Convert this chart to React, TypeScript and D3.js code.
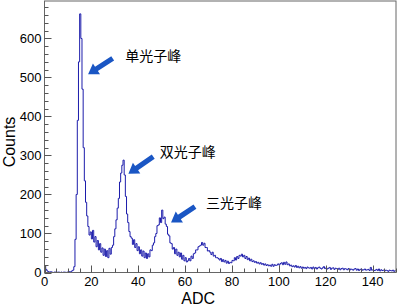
import React from "react";
import * as d3 from "d3";

const BIN_WIDTH = 0.5;
const X_DOMAIN = [0, 150];
const Y_DOMAIN = [0, 696];

// counts per 0.5-ADC bin, from 0 to 150
const counts: number[] = [
  // 0-5
  17, 8, 4, 2, 1, 2, 1, 0, 1, 1,
  // 5-10
  0, 1, 1, 0, 1, 0, 1, 1, 0, 1,
  // 10-15
  1, 2, 2, 4, 6, 15, 85, 200, 390, 540,
  // 15-20
  663, 600, 470, 320, 235, 180, 145, 118, 96, 104,
  // 20-25
  86, 108, 78, 92, 66, 82, 58, 74, 52, 63,
  // 25-30
  44, 60, 41, 56, 38, 62, 47, 64, 70, 92,
  // 30-35
  112, 135, 165, 190, 232, 255, 275, 288, 250, 195,
  // 35-40
  150, 128, 105, 92, 88, 72, 84, 64, 74, 56,
  // 40-45
  66, 48, 58, 42, 55, 38, 50, 36, 48, 40,
  // 45-50
  58, 56, 70, 76, 92, 100, 120, 122, 140, 128,
  // 50-55
  160, 138, 142, 124, 118, 98, 94, 76, 74, 60,
  // 55-60
  64, 48, 60, 44, 52, 40, 50, 34, 44, 30,
  // 60-65
  38, 27, 30, 36, 30, 42, 36, 48, 50, 58,
  // 65-70
  58, 66, 68, 70, 77, 70, 75, 64, 64, 55,
  // 70-75
  56, 52, 46, 52, 42, 44, 38, 38, 36, 32,
  // 75-80
  36, 28, 33, 27, 31, 24, 29, 23, 26, 25,
  // 80-85
  31, 30, 38, 32, 41, 36, 44, 42, 47, 40,
  // 85-90
  44, 36, 41, 33, 37, 30, 34, 28, 30, 26,
  // 90-95
  28, 24, 26, 22, 25, 21, 23, 19, 22, 18,
  // 95-100
  20, 17, 19, 16, 21, 16, 20, 18, 19, 22,
  // 100-105
  19, 23, 25, 20, 26, 21, 27, 20, 22, 17,
  // 105-110
  19, 15, 17, 14, 18, 13, 16, 12, 15, 11,
  // 110-115
  14, 11, 13, 10, 14, 12, 11, 13, 9, 14,
  // 115-120
  10, 13, 9, 12, 14, 11, 9, 12, 15, 10,
  // 120-125
  12, 9, 11, 13, 8, 11, 12, 8, 11, 10,
  // 125-130
  8, 11, 7, 10, 11, 7, 10, 9, 7, 10,
  // 130-135
  6, 9, 8, 6, 9, 10, 6, 9, 5, 8,
  // 135-140
  9, 6, 7, 9, 6, 7, 8, 5, 13, 6,
  // 140-145
  7, 5, 6, 8, 5, 9, 4, 7, 5, 6,
  // 145-150
  4, 6, 5, 3, 6, 5, 4, 6, 3, 5,
];

const xMajorTicks = [0, 20, 40, 60, 80, 100, 120, 140];
const yMajorTicks = [0, 100, 200, 300, 400, 500, 600];

const peakLabels = ["单光子峰", "双光子峰", "三光子峰"];
// arrow tail / tip in data coordinates (ADC, Counts)
const arrowTails: [number, number][] = [
  [29.1, 549],
  [46.4, 297],
  [64.2, 169],
];
const arrowTips: [number, number][] = [
  [18.6, 508],
  [35.8, 253],
  [54.0, 128],
];
const labelPos: [number, number][] = [
  [34.5, 556],
  [49.2, 308],
  [68.9, 178],
];

const W = 397;
const H = 307;
const left = 44.5;
const right = 396;
const top = 1;
const bottom = 272.5;

function arrowPath(tx: number, ty: number, hx: number, hy: number) {
  const dx = hx - tx;
  const dy = hy - ty;
  const len = Math.hypot(dx, dy);
  const ux = dx / len;
  const uy = dy / len;
  const px = -uy;
  const py = ux;
  const sw = 2.6; // half shaft width
  const hw = 6.5; // half head width
  const hl = 10; // head length
  const bx = hx - ux * hl;
  const by = hy - uy * hl;
  const pts = [
    [tx + px * sw, ty + py * sw],
    [bx + px * sw, by + py * sw],
    [bx + px * hw, by + py * hw],
    [hx, hy],
    [bx - px * hw, by - py * hw],
    [bx - px * sw, by - py * sw],
    [tx - px * sw, ty - py * sw],
  ];
  return "M" + pts.map((p) => p[0].toFixed(2) + "," + p[1].toFixed(2)).join("L") + "Z";
}

export default function App() {
  const x = d3.scaleLinear().domain(X_DOMAIN).range([left, right]);
  const y = d3.scaleLinear().domain(Y_DOMAIN).range([bottom, top]);

  const pts: [number, number][] = counts.map((c, i) => [i * BIN_WIDTH + BIN_WIDTH / 2, c]);
  const line = d3
    .line<[number, number]>()
    .x((d) => x(d[0]))
    .y((d) => y(d[1]))
    .curve(d3.curveStep);
  const path = line(pts) || "";

  const xMinor = d3.range(0, 151, 5);
  const yMinor = d3.range(0, 696, 20);

  const font = "Liberation Sans, Arial, sans-serif";
  const cjk = "Noto Sans CJK SC, sans-serif";

  return (
    <svg
      width={W}
      height={H}
      style={{ position: "absolute", left: 0, top: 0, background: "#fff" }}
    >
      <defs>
        <clipPath id="frame">
          <rect x={left} y={top} width={right - left} height={bottom - top} />
        </clipPath>
      </defs>
      <rect x={0} y={0} width={W} height={H} fill="#fff" />
      <path d={path} fill="none" stroke="#1c1cab" strokeWidth={1} clipPath="url(#frame)" />
      {/* frame */}
      <rect
        x={left}
        y={top}
        width={right - left}
        height={bottom - top}
        fill="none"
        stroke="#666"
        strokeWidth={1}
      />
      {/* y ticks */}
      {yMinor.map((v) => {
        const major = v % 100 === 0;
        return (
          <line
            key={"ym" + v}
            x1={left}
            x2={left + (major ? 7 : 4)}
            y1={Math.round(y(v)) + 0.5}
            y2={Math.round(y(v)) + 0.5}
            stroke="#555"
            strokeWidth={1}
          />
        );
      })}
      {/* x ticks */}
      {xMinor.map((v) => {
        const major = v % 20 === 0;
        return (
          <line
            key={"xm" + v}
            x1={Math.round(x(v)) + 0.5}
            x2={Math.round(x(v)) + 0.5}
            y1={bottom}
            y2={bottom - (major ? 7 : 4)}
            stroke="#555"
            strokeWidth={1}
          />
        );
      })}
      {yMajorTicks.map((v) => (
        <text
          key={"yl" + v}
          x={left - 3}
          y={y(v)}
          dy="0.36em"
          textAnchor="end"
          fontFamily={font}
          fontSize={13}
          fill="#000"
        >
          {v}
        </text>
      ))}
      {xMajorTicks.map((v) => (
        <text
          key={"xl" + v}
          x={x(v)}
          y={286}
          textAnchor="middle"
          fontFamily={font}
          fontSize={13}
          fill="#000"
        >
          {v}
        </text>
      ))}
      <text
        x={(left + right) / 2 - 22}
        y={304}
        textAnchor="middle"
        fontFamily={font}
        fontSize={16}
        fill="#000"
      >
        ADC
      </text>
      <text
        transform={`translate(15,142) rotate(-90)`}
        textAnchor="middle"
        fontFamily={font}
        fontSize={16}
        fill="#000"
      >
        Counts
      </text>
      {arrowTails.map((t, i) => (
        <path
          key={"ar" + i}
          d={arrowPath(x(t[0]), y(t[1]), x(arrowTips[i][0]), y(arrowTips[i][1]))}
          fill="#1a56c4"
        />
      ))}
      {peakLabels.map((s, i) => (
        <text
          key={"pl" + i}
          x={x(labelPos[i][0])}
          y={y(labelPos[i][1])}
          dy="0.35em"
          fontFamily={cjk}
          fontSize={14}
          fill="#000"
        >
          {s}
        </text>
      ))}
    </svg>
  );
}
